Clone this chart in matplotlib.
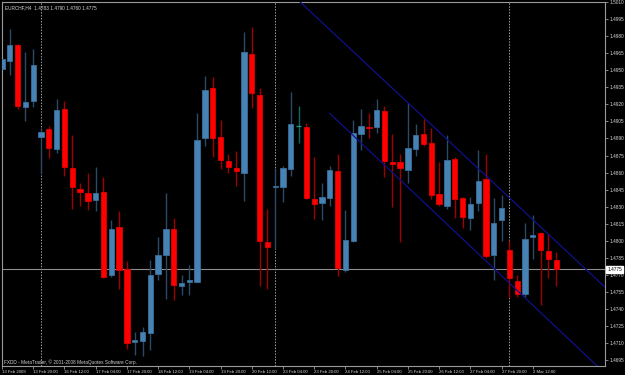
import matplotlib
matplotlib.use('Agg')
import matplotlib.pyplot as plt
import numpy as np
from matplotlib.transforms import blended_transform_factory

plt.rcParams['font.family'] = ['Liberation Sans', 'DejaVu Sans']

# EURCHF H4 свечи, 13 Feb 2009 04:00 .. 2 Mar 2009 20:00
opens = [1.4951, 1.4958, 1.4972, 1.4918, 1.4923, 1.4891, 1.4898, 1.4881, 1.4916, 1.4864,
         1.4846, 1.4842, 1.4836, 1.4843, 1.4770, 1.4812, 1.4775, 1.4711, 1.4712, 1.4719,
         1.4771, 1.4788, 1.4810, 1.4760, 1.4764, 1.4764, 1.4890, 1.4934, 1.4891, 1.4870,
         1.4864, 1.4860, 1.4964, 1.4928, 1.4799, 1.4847, 1.4847, 1.4863, 1.4901, 1.4900,
         1.4837, 1.4833, 1.4838, 1.4861, 1.4774, 1.4800, 1.4894, 1.4900, 1.4900, 1.4914,
         1.4869, 1.4869, 1.4862, 1.4881, 1.4894, 1.4886, 1.4841, 1.4831, 1.4872, 1.4838,
         1.4820, 1.4833, 1.4854, 1.4788, 1.4818, 1.4792, 1.4765, 1.4753, 1.4803, 1.4807,
         1.4791, 1.4783]
highs = [1.4962, 1.4986, 1.4973, 1.4966, 1.4969, 1.4898, 1.4901, 1.4925, 1.4923, 1.4893,
         1.4851, 1.4860, 1.4865, 1.4856, 1.4818, 1.4826, 1.4782, 1.4720, 1.4724, 1.4783,
         1.4803, 1.4842, 1.4820, 1.4770, 1.4779, 1.4912, 1.4945, 1.4944, 1.4906, 1.4876,
         1.4879, 1.4984, 1.4988, 1.4934, 1.4828, 1.4864, 1.4866, 1.4931, 1.4919, 1.4904,
         1.4874, 1.4851, 1.4866, 1.4876, 1.4827, 1.4906, 1.4916, 1.4912, 1.4925, 1.4919,
         1.4894, 1.4876, 1.4921, 1.4903, 1.4907, 1.4899, 1.4869, 1.4893, 1.4874, 1.4839,
         1.4839, 1.4880, 1.4876, 1.4838, 1.4840, 1.4801, 1.4770, 1.4816, 1.4823, 1.4808,
         1.4806, 1.4790]
lows = [1.4950, 1.4946, 1.4916, 1.4905, 1.4918, 1.4859, 1.4873, 1.4877, 1.4857, 1.4828,
        1.4831, 1.4827, 1.4826, 1.4767, 1.4768, 1.4758, 1.4705, 1.4700, 1.4699, 1.4704,
        1.4766, 1.4749, 1.4748, 1.4752, 1.4752, 1.4764, 1.4883, 1.4874, 1.4863, 1.4860,
        1.4848, 1.4835, 1.4917, 1.4760, 1.4758, 1.4793, 1.4834, 1.4857, 1.4886, 1.4837,
        1.4819, 1.4818, 1.4831, 1.4769, 1.4773, 1.4799, 1.4880, 1.4890, 1.4895, 1.4856,
        1.4830, 1.4799, 1.4851, 1.4875, 1.4883, 1.4837, 1.4831, 1.4828, 1.4820, 1.4811,
        1.4810, 1.4826, 1.4785, 1.4766, 1.4800, 1.4750, 1.4751, 1.4751, 1.4784, 1.4744,
        1.4767, 1.4760]
closes = [1.4960, 1.4972, 1.4919, 1.4922, 1.4955, 1.4896, 1.4882, 1.4915, 1.4865, 1.4847,
          1.4843, 1.4835, 1.4842, 1.4768, 1.4810, 1.4774, 1.4710, 1.4713, 1.4720, 1.4770,
          1.4788, 1.4810, 1.4761, 1.4763, 1.4766, 1.4889, 1.4933, 1.4890, 1.4871, 1.4865,
          1.4861, 1.4966, 1.4930, 1.4800, 1.4795, 1.4848, 1.4864, 1.4903, 1.4901, 1.4838,
          1.4832, 1.4839, 1.4862, 1.4776, 1.4801, 1.4895, 1.4901, 1.4899, 1.4915, 1.4870,
          1.4868, 1.4864, 1.4882, 1.4893, 1.4885, 1.4840, 1.4832, 1.4871, 1.4837, 1.4821,
          1.4832, 1.4853, 1.4787, 1.4816, 1.4829, 1.4767, 1.4753, 1.4802, 1.4805, 1.4792,
          1.4784, 1.4775]

# подписи времени (каждые 4 бара)
tick_idx = [0, 4, 8, 12, 16, 20, 24, 28, 32, 36, 40, 44, 48, 52, 56, 60, 64, 68]
tick_labels = ['13 Feb 2009', '13 Feb 20:00', '16 Feb 12:00', '17 Feb 04:00', '17 Feb 20:00',
               '18 Feb 12:00', '19 Feb 04:00', '19 Feb 20:00', '20 Feb 12:00', '23 Feb 04:00',
               '23 Feb 20:00', '24 Feb 12:00', '25 Feb 04:00', '25 Feb 20:00', '26 Feb 12:00',
               '27 Feb 04:00', '27 Feb 20:00', '2 Mar 12:00']
week_starts = [5, 35, 65]  # 16 Feb, 23 Feb, 2 Mar 00:00

# канал (две точки на каждую линию)
upper_x = [38.2, 77.3]
upper_y = [1.5010, 1.4759]
lower_x = [42.0, 76.4]
lower_y = [1.4912, 1.4689]

price_ticks = np.round(np.arange(1.4695, 1.50101, 0.0015), 4)

o = np.array(opens); h = np.array(highs); l = np.array(lows); c = np.array(closes)
x = np.arange(len(o))

fig = plt.figure(figsize=(6.25, 3.75), dpi=100, facecolor='black')
ax = fig.add_axes([2/625, 9/375, 603/625, 364/375])
ax.set_facecolor('black')

up = c > o
dn = c < o
dj = c == o

# тени
ax.vlines(x[up], l[up], h[up], color='#2a4a66', lw=1.0, zorder=2)
ax.vlines(x[dn], l[dn], h[dn], color='#a00000', lw=1.0, zorder=2)
ax.vlines(x[dj], l[dj], h[dj], color='#0a6a60', lw=1.0, zorder=2)

# тела свечей
w = 0.68
ax.bar(x[up], c[up] - o[up], bottom=o[up], width=w, color='#4682b4',
       edgecolor='#3a6e98', linewidth=0.6, zorder=3)
ax.bar(x[dn], o[dn] - c[dn], bottom=c[dn], width=w, color='#ff0000',
       edgecolor='#e00000', linewidth=0.6, zorder=3)
ax.hlines(o[dj], x[dj] - w/2, x[dj] + w/2, color='#14a090', lw=0.9, zorder=3)

# разделители периодов
for i in week_starts:
    ax.axvline(i, color='#a0a0a0', ls=(0, (1.5, 1.5)), lw=0.7, zorder=1)

# канал
def ray(xs, ys, x_end=80):
    k = (ys[1] - ys[0]) / (xs[1] - xs[0])
    return [xs[0], x_end], [ys[0], ys[0] + k * (x_end - xs[0])]

ux, uy = ray(upper_x, upper_y)
lx, ly = ray(lower_x, lower_y)
ax.plot(ux, uy, color='#10108a', lw=0.9, zorder=4)
ax.plot(lx, ly, color='#10108a', lw=0.9, zorder=4)

# линия bid
ax.axhline(closes[-1], color='#8c8c8c', lw=0.8, zorder=1)

ax.set_xlim(0.05, 77.25)
ax.set_ylim(1.4690, 1.5010)

for s in ax.spines.values():
    s.set_color('#9a9a9a')
    s.set_linewidth(0.8)

ax.yaxis.tick_right()
ax.set_yticks(price_ticks)
ax.set_yticklabels([f'{p:.4f}' for p in price_ticks])
ax.tick_params(axis='y', colors='#9a9a9a', labelcolor='#d8d8d8', labelsize=3.4,
               length=2, width=0.6, pad=1.2)

ax.set_xticks(tick_idx)
ax.set_xticklabels(tick_labels, ha='left')
ax.tick_params(axis='x', colors='#9a9a9a', labelcolor='#d8d8d8', labelsize=3.1,
               length=2, width=0.6, pad=1.0)

trans = blended_transform_factory(ax.transAxes, ax.transData)
ax.text(1.004, closes[-1], f'{closes[-1]:.4f}', transform=trans, fontsize=3.4,
        color='black', va='center', ha='left',
        bbox=dict(boxstyle='square,pad=0.2', fc='white', ec='white'))

fig.text(0.008, 0.985, f'EURCHF,H4  {opens[-1]:.4f} {highs[-1]:.4f} {lows[-1]:.4f} {closes[-1]:.4f}',
         color='#d8d8d8', fontsize=3.4, va='top', ha='left')
fig.text(0.006, 1 - 362/375, 'FXDD - MetaTrader, © 2001-2008 MetaQuotes Software Corp.',
         color='#d0d0d0', fontsize=3.4, va='center', ha='left')

fig.savefig('out.png', dpi=100, facecolor='black')
